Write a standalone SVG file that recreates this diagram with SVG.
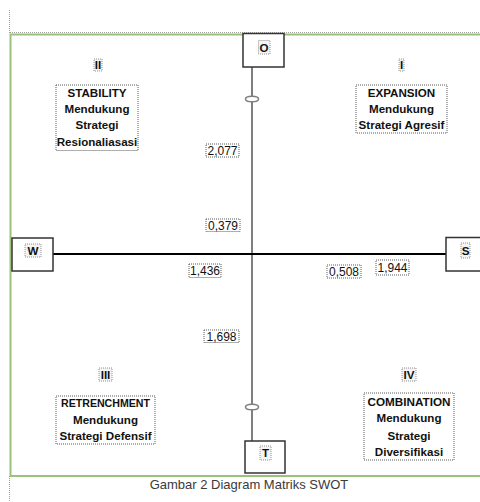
<svg xmlns="http://www.w3.org/2000/svg" width="480" height="502" viewBox="0 0 480 502">
<style>
.frame{fill:none;stroke:#9bc27a;stroke-width:2}
.guide{fill:none;stroke:#a0a0a0;stroke-width:1;stroke-dasharray:1 1}
.box{fill:#fff;stroke:#333;stroke-width:1.5}
.dot{fill:#fff;stroke:#333;stroke-width:0.8;stroke-dasharray:1 1}
.dotl{fill:#f4f4f4;stroke:#777;stroke-width:0.8;stroke-dasharray:1 1}
.b{font-family:"Liberation Sans",Arial,sans-serif;font-weight:bold;font-size:11.6px;fill:#111;text-anchor:middle}
.n{font-family:"Liberation Sans",Arial,sans-serif;font-size:12px;fill:#111;text-anchor:middle}
.cap{font-family:"Liberation Sans",Arial,sans-serif;font-size:13px;fill:#3a3a3a;text-anchor:middle}
.vax{stroke:#7f7f7f;stroke-width:2;fill:none}
.hax{stroke:#000;stroke-width:2.2;fill:none}
.ell{fill:#fff;stroke:#7f7f7f;stroke-width:1.5}
</style>
<rect width="480" height="502" fill="#fff"/>
<!-- page guides -->
<line class="guide" x1="9.5" y1="10" x2="9.5" y2="34"/>
<line class="guide" x1="9.5" y1="476" x2="9.5" y2="502"/>
<line class="guide" x1="10" y1="32.5" x2="480" y2="32.5"/>
<!-- frame -->
<path class="frame" d="M481 34.5 H10.5 V476 H481"/>
<!-- connectors -->
<g id="connectors">
<line class="vax" x1="252" y1="67" x2="252" y2="441"/>
<line class="hax" x1="53" y1="254" x2="446" y2="254"/>
<ellipse class="ell" cx="252" cy="99" rx="6.5" ry="2.8"/>
<ellipse class="ell" cx="252" cy="407" rx="6.5" ry="2.8"/>
</g>
<!-- axis nodes -->
<g id="node-O">
<rect class="box" x="243" y="33.5" width="41" height="33.5"/>
<rect class="dotl" x="258.5" y="40.5" width="11.5" height="13.5"/>
<text class="b" x="264" y="51.5">O</text>
</g>
<g id="node-T">
<rect class="box" x="245" y="441" width="40" height="32"/>
<rect class="dotl" x="260" y="446" width="11" height="14"/>
<text class="b" x="265.5" y="457">T</text>
</g>
<g id="node-W">
<rect class="box" x="12" y="238" width="41" height="33"/>
<rect class="dotl" x="25" y="244" width="16" height="13"/>
<text class="b" x="33" y="254.5">W</text>
</g>
<g id="node-S">
<rect class="box" x="446" y="237.5" width="40" height="33.5"/>
<rect class="dotl" x="461" y="243" width="9" height="15"/>
<text class="b" x="465.5" y="254.5">S</text>
</g>
<!-- quadrant numbers -->
<g id="q2"><rect class="dotl" x="94" y="59" width="8" height="12"/><text class="b" x="98" y="69">II</text></g>
<g id="q1"><rect class="dotl" x="399" y="59" width="5" height="12"/><text class="b" x="401.5" y="69">I</text></g>
<g id="q3"><rect class="dotl" x="99" y="368" width="13" height="13"/><text class="b" x="105.5" y="378.5">III</text></g>
<g id="q4"><rect class="dotl" x="402" y="368" width="14" height="13"/><text class="b" x="409" y="378.5">IV</text></g>
<!-- strategy boxes -->
<g id="stability">
<rect class="dot" x="56" y="85" width="82" height="65.5"/>
<text class="b" x="97" y="97">STABILITY</text>
<text class="b" x="97" y="113">Mendukung</text>
<text class="b" x="97" y="129">Strategi</text>
<text class="b" x="97" y="146">Resionaliasasi</text>
</g>
<g id="expansion">
<rect class="dot" x="356" y="85" width="91" height="48"/>
<text class="b" x="401.5" y="97">EXPANSION</text>
<text class="b" x="401.5" y="113">Mendukung</text>
<text class="b" x="401.5" y="129">Strategi Agresif</text>
</g>
<g id="retrenchment">
<rect class="dot" x="56" y="396" width="99" height="48"/>
<text class="b" x="105.5" y="406.5" textLength="89" lengthAdjust="spacingAndGlyphs">RETRENCHMENT</text>
<text class="b" x="105.5" y="424">Mendukung</text>
<text class="b" x="105.5" y="440">Strategi Defensif</text>
</g>
<g id="combination">
<rect class="dot" x="364" y="393" width="90" height="67"/>
<text class="b" x="409" y="406" textLength="83" lengthAdjust="spacingAndGlyphs">COMBINATION</text>
<text class="b" x="409" y="422">Mendukung</text>
<text class="b" x="409" y="440">Strategi</text>
<text class="b" x="409" y="456">Diversifikasi</text>
</g>
<!-- values -->
<g id="v2077"><rect class="dot" x="206" y="144" width="33" height="13"/><text class="n" x="222.5" y="155">2,077</text></g>
<g id="v0379"><rect class="dot" x="206" y="219" width="34" height="12.5"/><text class="n" x="223" y="230">0,379</text></g>
<g id="v1436"><rect class="dot" x="189" y="264" width="32" height="13.5"/><text class="n" x="205" y="275">1,436</text></g>
<g id="v0508"><rect class="dot" x="327" y="265" width="34" height="13"/><text class="n" x="344" y="276">0,508</text></g>
<g id="v1944"><rect class="dot" x="376" y="260" width="33" height="15"/><text class="n" x="392.5" y="272">1,944</text></g>
<g id="v1698"><rect class="dot" x="204" y="330" width="35" height="12.5"/><text class="n" x="221.5" y="341">1,698</text></g>
<text class="cap" x="249" y="489">Gambar 2 Diagram Matriks SWOT</text>
</svg>
